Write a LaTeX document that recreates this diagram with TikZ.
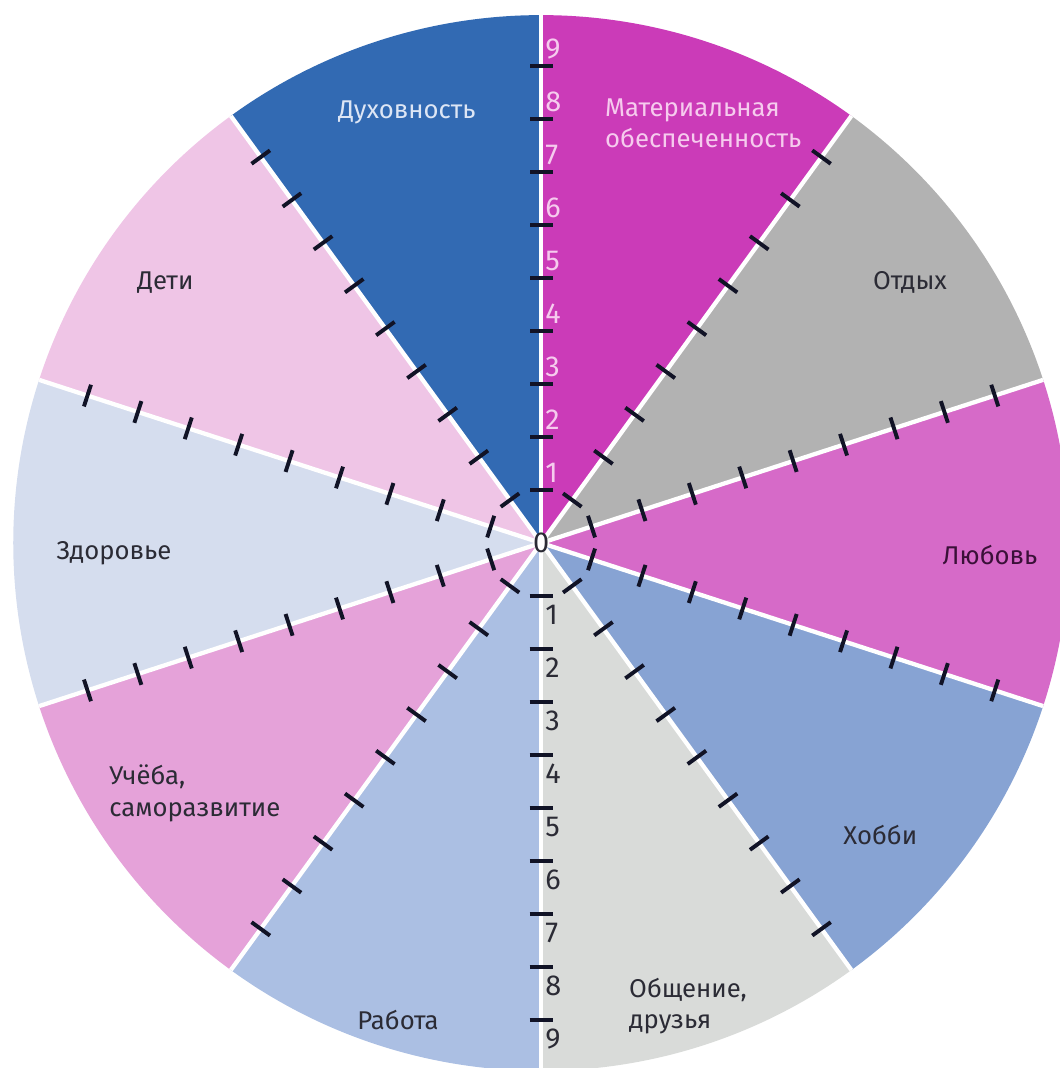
\documentclass[tikz,border=0pt]{standalone}
\usepackage{fontspec}
\setmainfont{Fira Sans}
\usetikzlibrary{positioning}
\definecolor{cwealth}{HTML}{CB3BB8}
\definecolor{crest}{HTML}{B2B2B2}
\definecolor{clove}{HTML}{D66AC8}
\definecolor{chobby}{HTML}{87A3D3}
\definecolor{cfriends}{HTML}{D9DBD9}
\definecolor{cwork}{HTML}{ABBFE3}
\definecolor{cstudy}{HTML}{E5A2D9}
\definecolor{chealth}{HTML}{D5DDEE}
\definecolor{ckids}{HTML}{EFC5E6}
\definecolor{cspirit}{HTML}{326AB3}
\definecolor{cdark}{HTML}{2B2B35}
\definecolor{cplum}{HTML}{3A1038}
\definecolor{clight}{HTML}{DDE6F5}
\definecolor{cpinktext}{HTML}{F6CBEE}
\definecolor{ctick}{HTML}{111326}
\tikzset{
  every picture/.style={font=\fontsize{13.8}{17}\selectfont},
  sector/.style={fill=#1},
  spoke/.style={draw=white, line width=2.3pt},
  tickmark/.style={draw=ctick, line width=2.1pt},
  sectorlabel/.style={text=#1, align=left, inner sep=1pt},
  sectorlabel/.default=cdark,
  num/.style={text=#1, font=\fontsize{15.5}{17}\selectfont, anchor=west, inner sep=1pt},
}
\begin{document}
\begin{tikzpicture}
  \useasboundingbox (-10.21,-9.906) rectangle (9.79,10.245);
  \def\R{9.96}
  % sectors, clockwise from the top
  \foreach \a/\c in {54/cwealth, 18/crest, -18/clove, -54/chobby, -90/cfriends,
     -126/cwork, -162/cstudy, 162/chealth, 126/ckids, 90/cspirit} {
    \fill[sector=\c] (0,0) -- (\a:\R) arc[start angle=\a, delta angle=36, radius=\R] -- cycle;
  }
  % white spokes with the scale ticks
  \foreach \a in {18,54,...,342} {
    \draw[spoke] (0,0) -- (\a:\R);
    \foreach \k in {1,...,9}
      \draw[tickmark, rotate=\a] (\k,-0.215) -- (\k,0.215);
  }
  % numbers on the vertical axis
  \node[text=cdark, font=\fontsize{15.5}{17}\selectfont, inner sep=0pt] (zero) at (0,0) {0};
  \foreach \k in {1,...,9} {
    \node[num=cpinktext] (up\k) at (0.04,\k+0.32) {\k};
    \node[num=cdark] (down\k) at (0.04,-\k-0.36) {\k};
  }
  % sector names
  \foreach \n/\x/\y/\tc/\t in {
     spirit/-2.53/8.13/clight/{Духовность},
     wealth/3.06/7.92/cpinktext/{Материальная\\обеспеченность},
     rest/6.96/4.91/cdark/{Отдых},
     love/8.47/-0.23/cplum/{Любовь},
     hobby/6.40/-5.51/cdark/{Хобби},
     work/-2.70/-9.0/cdark/{Работа},
     health/-8.06/-0.19/cdark/{Здоровье},
     kids/-7.09/4.91/cdark/{Дети}} {
    \node[sectorlabel=\tc] (\n) at (\x,\y) {\t};
  }
  \node[sectorlabel, anchor=west] (friends) at (1.62,-8.74) {Общение,\\друзья};
  \node[sectorlabel, anchor=west] (study) at (-8.19,-4.72) {Учёба,\\саморазвитие};
\end{tikzpicture}
\end{document}
